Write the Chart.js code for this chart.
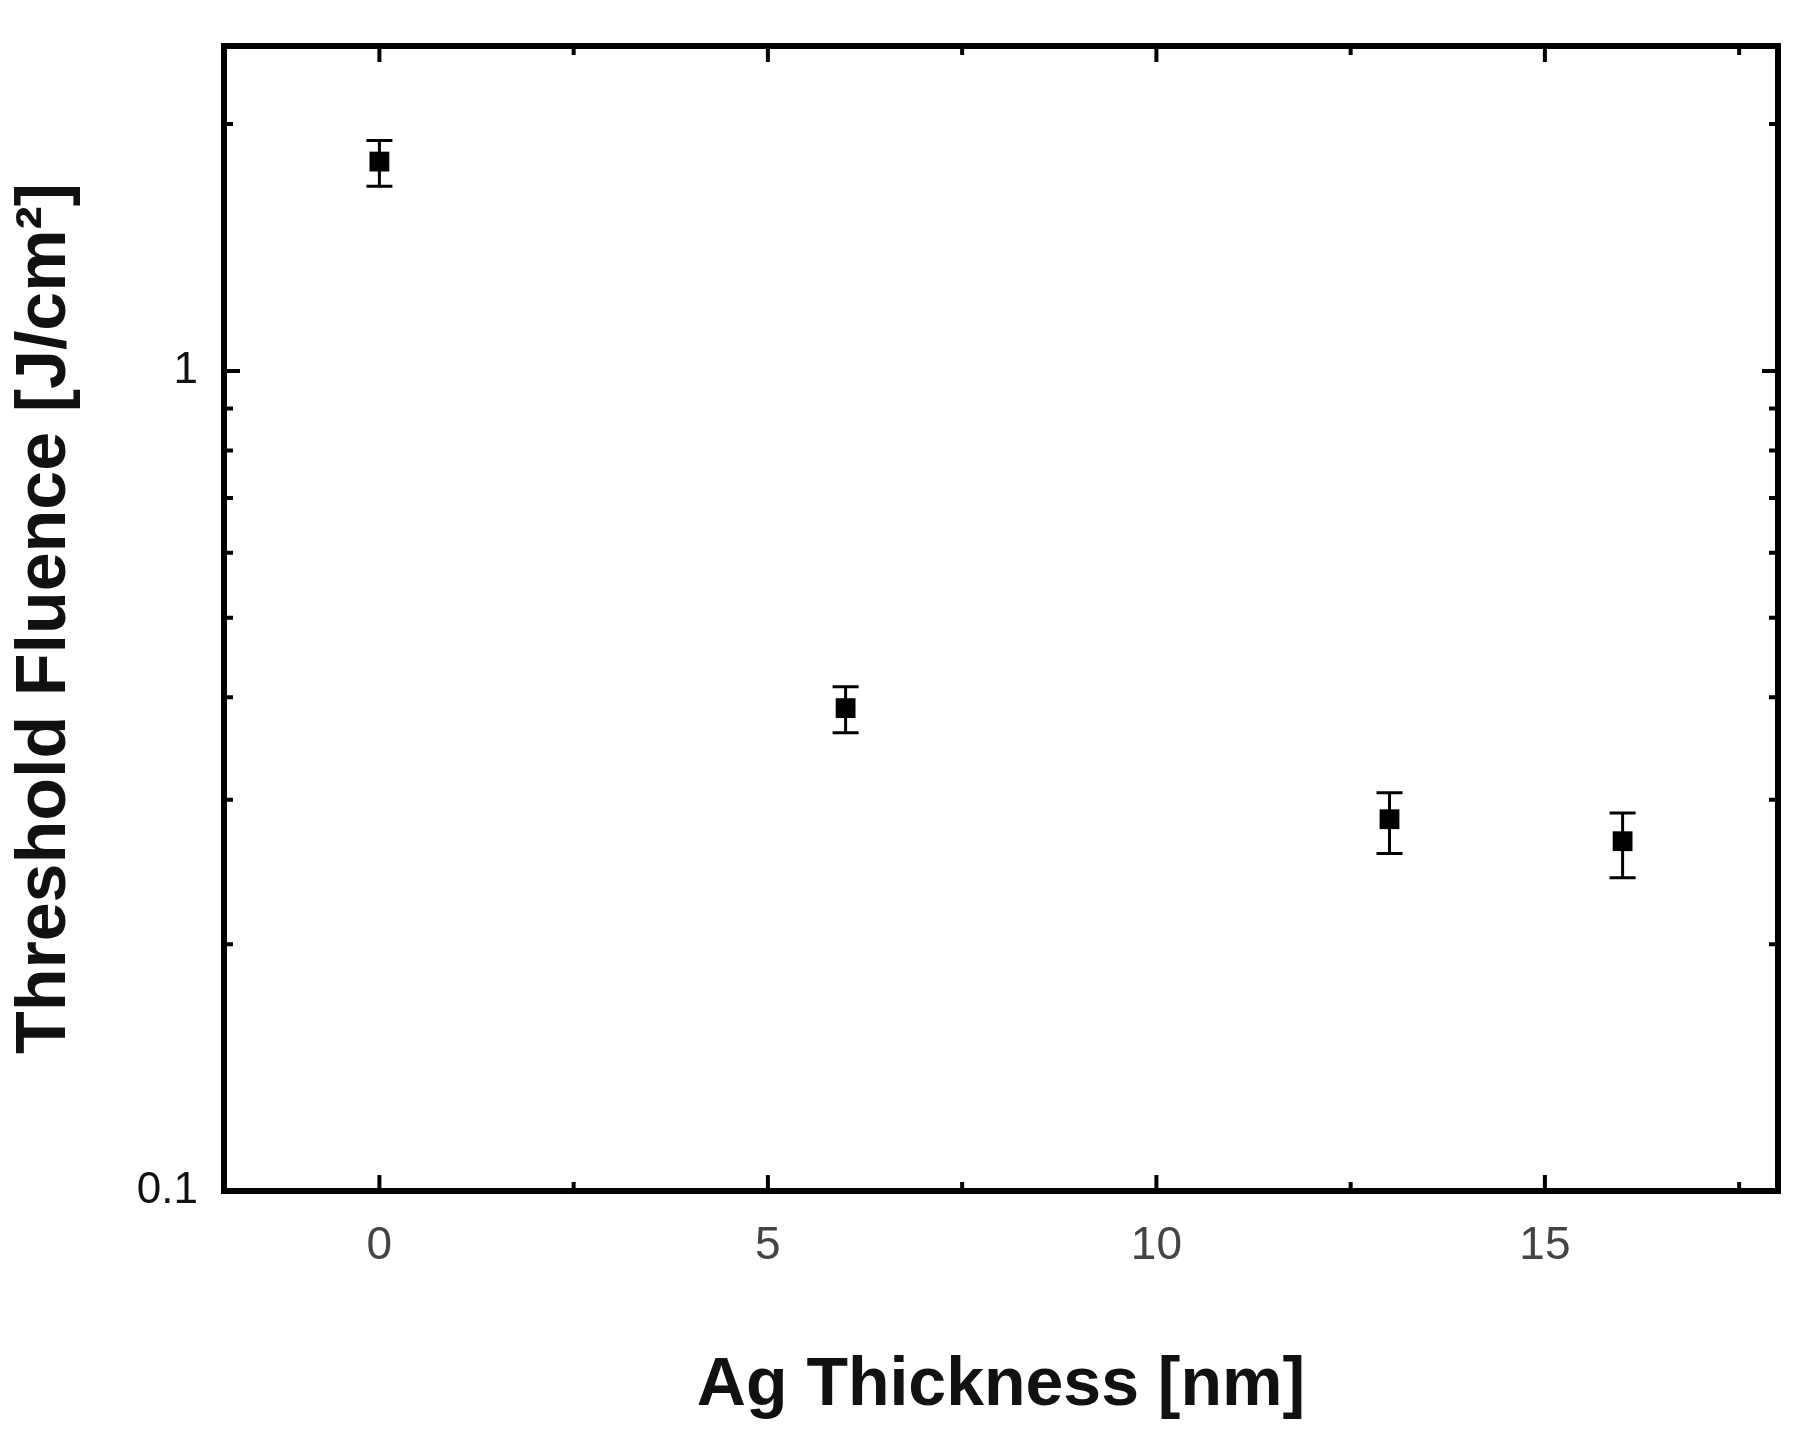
<!DOCTYPE html>
<html>
<head>
<meta charset="utf-8">
<script src="https://cdn.jsdelivr.net/npm/chart.js@4"></script>
<style>
  html, body { margin: 0; padding: 0; background: #fff; }
  #wrap { width: 1809px; height: 1431px; }
</style>
</head>
<body>
<div id="wrap"><canvas id="chart"></canvas></div>
<script>
// data
const thickness = [0, 6, 13, 16];
const fluence = [1.80, 0.388, 0.284, 0.267];
const errLow = [1.68, 0.362, 0.258, 0.241];
const errHigh = [1.91, 0.412, 0.306, 0.289];
const xMajorTicks = [0, 5, 10, 15];
const xMinorTicks = [-2.5, 2.5, 7.5, 12.5, 17.5];
const yMajorTicks = [0.1, 1];
const yMinorTicks = [0.2, 0.3, 0.4, 0.5, 0.6, 0.7, 0.8, 0.9, 2];

const font = 'Liberation Sans, Arial, sans-serif';

//-- frame, inward ticks, error bars//
const decorations = {
    id: 'decorations',
    afterDatasetsDraw(chart) {
        const { ctx, chartArea: a, scales: { x, y } } = chart;
        ctx.save();
        ctx.strokeStyle = '#000';
        ctx.lineCap = 'butt';

        // error bars
        ctx.lineWidth = 3;
        thickness.forEach((t, i) => {
            const px = x.getPixelForValue(t);
            const lo = y.getPixelForValue(errLow[i]);
            const hi = y.getPixelForValue(errHigh[i]);
            ctx.beginPath();
            ctx.moveTo(px, lo); ctx.lineTo(px, hi);
            ctx.moveTo(px - 13, lo); ctx.lineTo(px + 13, lo);
            ctx.moveTo(px - 13, hi); ctx.lineTo(px + 13, hi);
            ctx.stroke();
        });

        // ticks
        ctx.lineWidth = 4;
        const tickX = (v, len) => {
            const px = x.getPixelForValue(v);
            if (px < a.left || px > a.right) return;
            ctx.beginPath();
            ctx.moveTo(px, a.bottom); ctx.lineTo(px, a.bottom - len);
            ctx.moveTo(px, a.top); ctx.lineTo(px, a.top + len);
            ctx.stroke();
        };
        const tickY = (v, len) => {
            const py = y.getPixelForValue(v);
            ctx.beginPath();
            ctx.moveTo(a.left, py); ctx.lineTo(a.left + len, py);
            ctx.moveTo(a.right, py); ctx.lineTo(a.right - len, py);
            ctx.stroke();
        };
        xMajorTicks.forEach(v => tickX(v, 16));
        xMinorTicks.forEach(v => tickX(v, 9));
        yMajorTicks.forEach(v => tickY(v, 16));
        yMinorTicks.forEach(v => tickY(v, 9));

        // frame
        ctx.lineWidth = 6;
        ctx.strokeRect(a.left, a.top, a.right - a.left, a.bottom - a.top);
        ctx.restore();
    }
};

new Chart(document.getElementById('chart'), {
    type: 'scatter',
    data: {
        datasets: [{
            data: thickness.map((t, i) => ({ x: t, y: fluence[i] })),
            pointStyle: 'rect',
            pointRadius: 14,
            pointHoverRadius: 14,
            backgroundColor: '#000',
            borderColor: '#000',
            borderWidth: 0
        }]
    },
    options: {
        responsive: true,
        maintainAspectRatio: false,
        animation: false,
        layout: { padding: { top: 46, right: 31, left: 0, bottom: 0 } },
        plugins: { legend: { display: false }, tooltip: { enabled: false } },
        scales: {
            x: {
                type: 'linear',
                min: -2,
                max: 18,
                afterFit(s) { s.height = 240; },
                grid: { display: false },
                border: { display: false },
                afterBuildTicks(s) { s.ticks = xMajorTicks.map(v => ({ value: v })); },
                ticks: {
                    padding: 20,
                    color: '#444',
                    font: { family: font, size: 46 }
                },
                title: {
                    display: true,
                    text: 'Ag Thickness [nm]',
                    color: '#111',
                    padding: { top: 10 },
                    font: { family: font, size: 68, weight: 'bold' }
                }
            },
            y: {
                type: 'logarithmic',
                min: 0.1,
                max: 2.49,
                afterFit(s) { s.width = 224; },
                grid: { display: false },
                border: { display: false },
                afterBuildTicks(s) { s.ticks = yMajorTicks.map(v => ({ value: v })); },
                ticks: {
                    padding: 18,
                    color: '#111',
                    font: { family: font, size: 44 },
                    callback: v => String(v)
                },
                title: {
                    display: true,
                    text: 'Threshold Fluence [J/cm²]',
                    color: '#111',
                    padding: { bottom: 4 },
                    font: { family: font, size: 70, weight: 'bold' }
                }
            }
        }
    },
    plugins: [decorations]
});
</script>
</body>
</html>
